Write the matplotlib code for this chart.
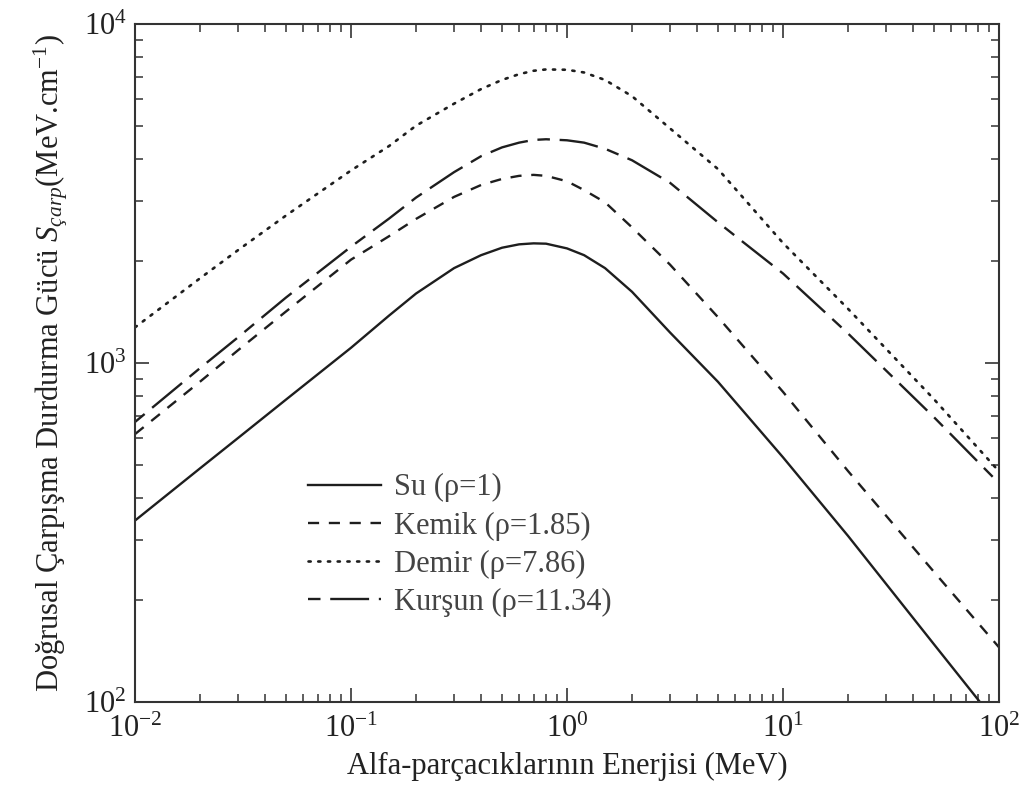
import numpy as np
import matplotlib.pyplot as plt

plt.rcParams['font.family'] = ['Liberation Serif', 'DejaVu Serif']
plt.rcParams['mathtext.fontset'] = 'custom'
plt.rcParams['mathtext.rm'] = 'Liberation Serif'
plt.rcParams['mathtext.it'] = 'Liberation Serif:italic'
plt.rcParams['lines.scale_dashes'] = False

# alpha energy (MeV)
energy = [0.01, 0.02, 0.03, 0.05, 0.1, 0.15, 0.2, 0.3, 0.4, 0.5, 0.6, 0.7,
          0.8, 1.0, 1.2, 1.5, 2, 3, 5, 10, 20, 50, 100]

# collision stopping power (MeV/cm)
su = [343, 489, 601, 780, 1109, 1380, 1603, 1905, 2080, 2188, 2239, 2254,
      2249, 2178, 2080, 1905, 1622, 1230, 880, 527, 309, 148, 85]
kemik = [617, 881, 1091, 1419, 2018, 2366, 2661, 3090, 3350, 3491, 3565, 3589,
         3565, 3436, 3236, 2979, 2512, 1950, 1365, 822, 480, 242, 145]
demir = [1274, 1778, 2153, 2723, 3698, 4365, 5012, 5821, 6427, 6839, 7112, 7278,
         7345, 7328, 7194, 6839, 6124, 4920, 3733, 2259, 1445, 782, 479]
kursun = [670, 966, 1191, 1560, 2203, 2667, 3076, 3656, 4074, 4325, 4467, 4550,
          4571, 4539, 4467, 4285, 3963, 3400, 2600, 1837, 1222, 692, 442]

labels = ["Su (\u03c1=1)", "Kemik (\u03c1=1.85)", "Demir (\u03c1=7.86)", "Kur\u015fun (\u03c1=11.34)"]

fig = plt.figure(figsize=(10.33, 7.92), dpi=100)
ax = fig.add_axes([0.1307, 0.1136, 0.8364, 0.8561])

col = "#1e1e1e"
ax.plot(energy, su, color=col, lw=1.7, label=labels[0])
ax.plot(energy, kemik, color=col, lw=1.7, dashes=(8, 7), label=labels[1])
ax.plot(energy, demir, color=col, lw=1.9, dashes=(1.6, 5.4),
        dash_capstyle='round', label=labels[2])
# long-short dash, offset so the legend handle starts with the short dash
ax.plot(energy, kursun, color=col, lw=1.7, linestyle=(35, (28, 7, 9, 7)), label=labels[3])

ax.set_xscale("log")
ax.set_yscale("log")
ax.set_xlim(1e-2, 1e2)
ax.set_ylim(1e2, 1e4)

ax.tick_params(which="both", direction="in", top=True, right=True,
               colors="#333333", labelcolor="#222222", labelsize=22)
ax.tick_params(which="major", length=10, width=1.2)
ax.tick_params(which="minor", length=5.5, width=1.1)
ax.tick_params(axis="x", which="major", pad=9)
ax.tick_params(axis="y", which="major", pad=6)
for s in ax.spines.values():
    s.set_linewidth(1.5)
    s.set_color("#333333")

ax.set_xlabel("Alfa-par\u00e7ac\u0131klar\u0131n\u0131n Enerjisi (MeV)",
              fontsize=22, color="#222222", labelpad=6)
ax.set_ylabel("Do\u011frusal \u00c7arp\u0131\u015fma Durdurma G\u00fcc\u00fc $S_{\u00e7arp}$(MeV.cm$^{-1}$)",
              fontsize=22, color="#222222", labelpad=10)

leg = ax.legend(loc="upper left", bbox_to_anchor=(0.168, 0.378), frameon=False,
                fontsize=22, handlelength=2.4, handletextpad=0.42, labelspacing=0.30)
for t in leg.get_texts():
    t.set_color("#444444")

fig.savefig("out.png", dpi=100)
